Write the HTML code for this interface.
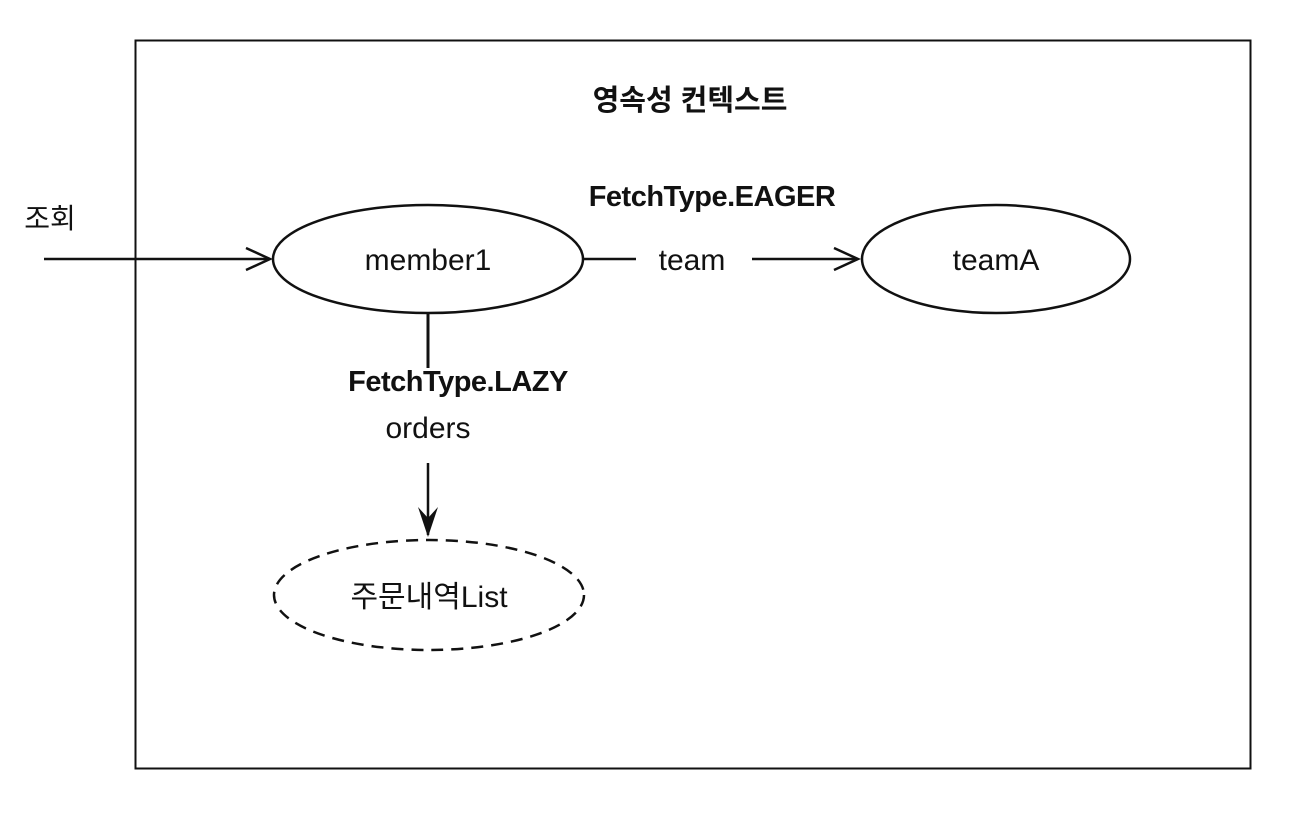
<!DOCTYPE html>
<html><head><meta charset="utf-8"><style>
body{margin:0;background:#fff;}
svg{display:block}
text{font-family:"Liberation Sans","Noto Sans CJK KR",sans-serif;fill:#111}
</style></head><body>
<svg width="1294" height="824" viewBox="0 0 1294 824">
<rect x="135.5" y="40.5" width="1115" height="728" fill="none" stroke="#111" stroke-width="2"/>
<text x="690" y="110" font-size="29" font-weight="bold" text-anchor="middle">영속성 컨텍스트</text>
<text x="712" y="206" font-size="29" font-weight="bold" text-anchor="middle" letter-spacing="-0.5">FetchType.EAGER</text>
<text x="50" y="228" font-size="28" text-anchor="middle">조회</text>
<line x1="44" y1="259" x2="270" y2="259" stroke="#111" stroke-width="2.5"/>
<polyline points="246,248 270,259 246,270" fill="none" stroke="#111" stroke-width="2.5"/>
<ellipse cx="428" cy="259" rx="155" ry="54" fill="#fff" stroke="#111" stroke-width="2.5"/>
<text x="428" y="270" font-size="30" text-anchor="middle">member1</text>
<line x1="583" y1="259" x2="636" y2="259" stroke="#111" stroke-width="2.5"/>
<text x="692" y="270" font-size="30" text-anchor="middle">team</text>
<line x1="752" y1="259" x2="858" y2="259" stroke="#111" stroke-width="2.5"/>
<polyline points="834,248 858,259 834,270" fill="none" stroke="#111" stroke-width="2.5"/>
<ellipse cx="996" cy="259" rx="134" ry="54" fill="#fff" stroke="#111" stroke-width="2.5"/>
<text x="996" y="270" font-size="30" text-anchor="middle">teamA</text>
<line x1="428" y1="313" x2="428" y2="368" stroke="#111" stroke-width="3"/>
<text x="458" y="391" font-size="29" font-weight="bold" text-anchor="middle" letter-spacing="-0.5">FetchType.LAZY</text>
<text x="428" y="438" font-size="30" text-anchor="middle">orders</text>
<line x1="428" y1="463" x2="428" y2="535" stroke="#111" stroke-width="2.5"/>
<polygon points="418,507 428,537 438,507 428,518" fill="#111"/>
<ellipse cx="429" cy="595" rx="155" ry="55" fill="none" stroke="#111" stroke-width="2.5" stroke-dasharray="12,8"/>
<text x="429" y="607" font-size="30" text-anchor="middle">주문내역List</text>
</svg>
</body></html>
